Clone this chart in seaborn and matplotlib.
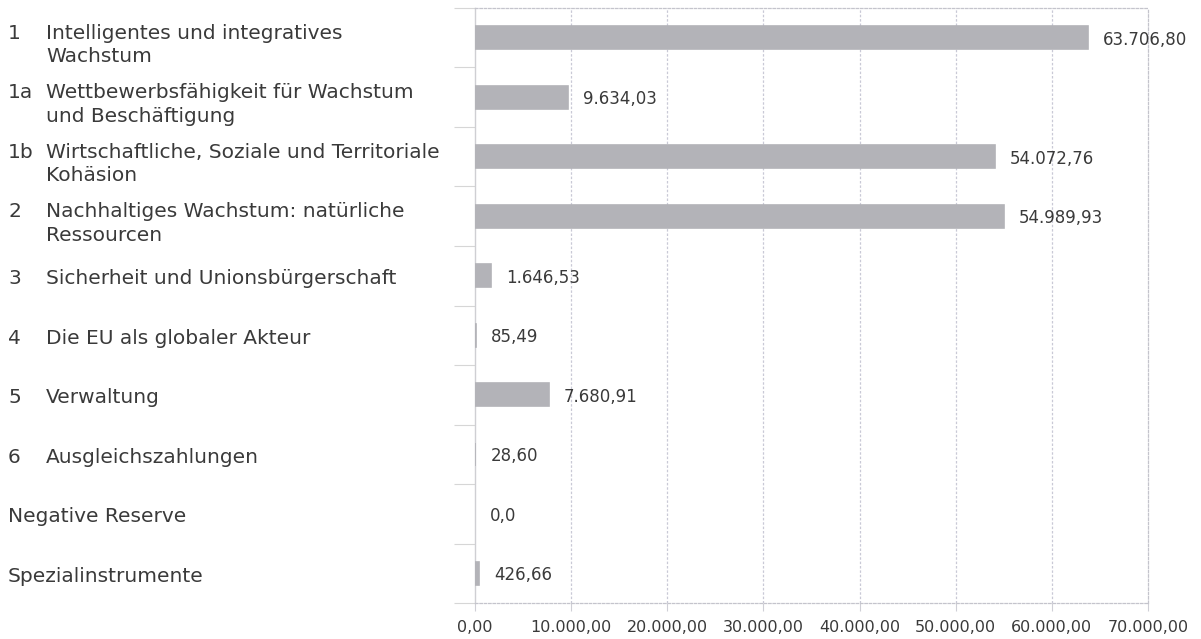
import matplotlib
matplotlib.use("Agg")
import matplotlib.pyplot as plt
import matplotlib.transforms as mtransforms
import seaborn as sns
import pandas as pd
import numpy as np

# Budget headings (number column + description) and amounts in million EUR
codes = ["1", "1a", "1b", "2", "3", "4", "5", "6", "", ""]
names = [
    "Intelligentes und integratives\nWachstum",
    "Wettbewerbsfähigkeit für Wachstum\nund Beschäftigung",
    "Wirtschaftliche, Soziale und Territoriale\nKohäsion",
    "Nachhaltiges Wachstum: natürliche\nRessourcen",
    "Sicherheit und Unionsbürgerschaft",
    "Die EU als globaler Akteur",
    "Verwaltung",
    "Ausgleichszahlungen",
    "Negative Reserve",
    "Spezialinstrumente",
]
values = [63706.80, 9634.03, 54072.76, 54989.93, 1646.53, 85.49, 7680.91, 28.60, 0.0, 426.66]
x_ticks = [0, 10000, 20000, 30000, 40000, 50000, 60000, 70000]


def de_format(v, decimals=2):
    s = f"{v:,.{decimals}f}"
    return s.replace(",", "X").replace(".", ",").replace("X", ".")


sns.set_theme(style="white")
plt.rcParams["font.family"] = ["DejaVu Sans"]
text_color = "#3a3a3a"
bar_color = "#b3b3b8"

df = pd.DataFrame({"key": [f"r{i}" for i in range(len(values))], "value": values})

fig = plt.figure(figsize=(12.01, 6.39), dpi=100)
ax = fig.add_axes([0.3955, 0.0563, 0.9559 - 0.3955, 0.9875 - 0.0563])

sns.barplot(data=df, y="key", x="value", orient="h", color=bar_color,
            saturation=1, width=0.39, ax=ax, edgecolor=bar_color, linewidth=1.2,
            zorder=3)
# an empty amount gets no outline
for patch in ax.patches:
    if patch.get_width() == 0:
        patch.set_linewidth(0)

ax.set_xlim(0, 70000)
ax.set_ylim(len(values) - 0.5, -0.5)
ax.set_xlabel("")
ax.set_ylabel("")

# vertical grid
ax.set_xticks(x_ticks)
ax.set_xticklabels([de_format(t) for t in x_ticks], fontsize=11.5, color=text_color)
for t in x_ticks[1:-1]:
    ax.axvline(t, color="#c9c9d6", lw=0.9, ls=(0, (2, 1.5)), zorder=0)

# spines
for side in ["top", "bottom", "right"]:
    ax.spines[side].set_color("#c4c4cc")
    ax.spines[side].set_linewidth(0.9)
    ax.spines[side].set_linestyle((0, (2, 1.5)))
ax.spines["left"].set_color("#cfcfd3")
ax.spines["left"].set_linewidth(1.0)

ax.tick_params(axis="x", length=6, width=0.8, color="#cfcfd6", pad=6, bottom=True)
ax.set_yticks([])
ax.set_yticks(np.arange(-0.5, len(values)), minor=True)
ax.tick_params(axis="y", which="minor", length=15, width=0.8, color="#d6d6d6", left=True)

# value labels
for i, v in enumerate(values):
    lab = de_format(v) if v else "0,0"
    ax.annotate(lab, xy=(v, i), xytext=(11, -1.5), textcoords="offset points",
                va="center", ha="left", fontsize=12, color=text_color)

# category labels on the left: code column aligned with the first text line
label_size = 14.5
spacing = 1.3
base = mtransforms.blended_transform_factory(fig.transFigure, ax.transData)
for i, (c, n) in enumerate(zip(codes, names)):
    extra_lines = n.count("\n")
    shift = (2.2 + 3.0 * extra_lines) / 72
    trans = base + mtransforms.ScaledTranslation(0, -shift, fig.dpi_scale_trans)
    if c:
        ax.text(8 / 1201, i, c + "\n" * extra_lines, transform=trans, va="center",
                ha="left", fontsize=label_size, color=text_color, linespacing=spacing)
        ax.text(46 / 1201, i, n, transform=trans, va="center", ha="left",
                fontsize=label_size, color=text_color, linespacing=spacing)
    else:
        ax.text(8 / 1201, i, n, transform=trans, va="center", ha="left",
                fontsize=label_size, color=text_color, linespacing=spacing)

fig.savefig("out.png", dpi=100)
